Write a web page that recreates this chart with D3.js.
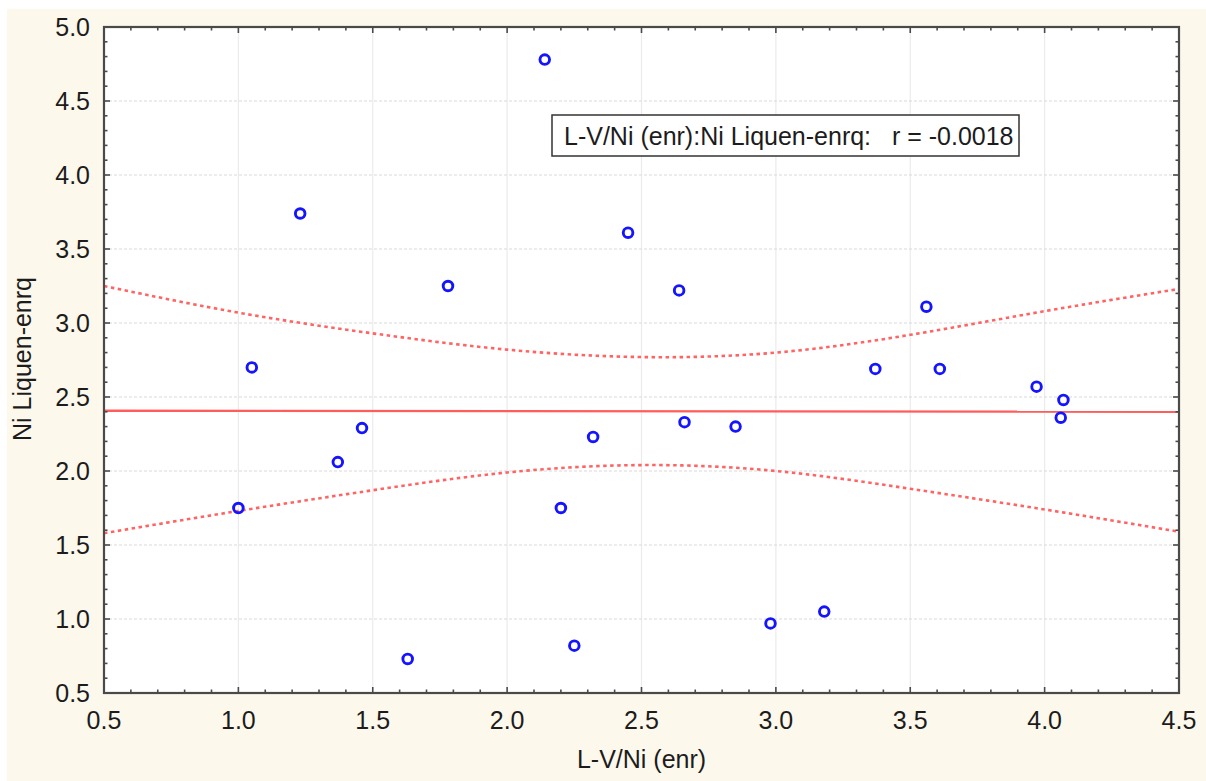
<!DOCTYPE html>
<html>
<head>
<meta charset="utf-8">
<script src="https://cdn.jsdelivr.net/npm/d3@7"></script>
<style>
  html, body { margin: 0; padding: 0; background: #ffffff; }
  svg { display: block; }
  text { font-family: "Liberation Sans", Arial, sans-serif; fill: #1c1c1c; }
</style>
</head>
<body>
<svg id="chart" width="1206" height="781"></svg>
<script>
// Observations: L-V/Ni (enr) against Ni Liquen-enrq
const xValues = [1.00, 1.05, 1.23, 1.37, 1.46, 1.63, 1.78, 2.14, 2.20, 2.25, 2.32, 2.45,
                 2.64, 2.66, 2.85, 2.98, 3.18, 3.37, 3.56, 3.61, 3.97, 4.06, 4.07];
const yValues = [1.75, 2.70, 3.74, 2.06, 2.29, 0.73, 3.25, 4.78, 1.75, 0.82, 2.23, 3.61,
                 3.22, 2.33, 2.30, 0.97, 1.05, 2.69, 3.11, 2.69, 2.57, 2.36, 2.48];

// Fitted line and 95% confidence band, sampled along x
const fitX = [0.5, 4.5];
const fitY = [2.407, 2.400];
const bandX = [0.5, 1.0, 1.5, 2.0, 2.5, 3.0, 3.5, 4.0, 4.5];
const bandUpper = [3.25, 3.07, 2.93, 2.82, 2.77, 2.80, 2.92, 3.08, 3.23];
const bandLower = [1.58, 1.73, 1.87, 1.99, 2.04, 2.00, 1.88, 1.74, 1.59];

// Axis ticks
const xTicks = [0.5, 1.0, 1.5, 2.0, 2.5, 3.0, 3.5, 4.0, 4.5];
const yTicks = [0.5, 1.0, 1.5, 2.0, 2.5, 3.0, 3.5, 4.0, 4.5, 5.0];

const xTitle = "L-V/Ni (enr)";
const yTitle = "Ni Liquen-enrq";
const legendText = "L-V/Ni (enr):Ni Liquen-enrq:   r = -0.0018";

const svg = d3.select("#chart");
const W = 1206, H = 781;
const plot = { left: 104, right: 1179, top: 27, bottom: 693 };
const fontSize = 25;

// page background
svg.append("rect").attr("x", 0).attr("y", 0).attr("width", W).attr("height", H).attr("fill", "#ffffff");
svg.append("rect").attr("x", 7).attr("y", 9).attr("width", W - 7).attr("height", H - 9).attr("fill", "#fcf8ec");

const x = d3.scaleLinear().domain([0.5, 4.5]).range([plot.left, plot.right]);
const y = d3.scaleLinear().domain([0.5, 5.0]).range([plot.bottom, plot.top]);

// plot area
svg.append("rect")
  .attr("x", plot.left).attr("y", plot.top)
  .attr("width", plot.right - plot.left).attr("height", plot.bottom - plot.top)
  .attr("fill", "#ffffff");

// grid
const grid = svg.append("g");
grid.selectAll("line.vg").data(xTicks.slice(1, -1)).join("line")
  .attr("x1", d => x(d)).attr("x2", d => x(d))
  .attr("y1", plot.top).attr("y2", plot.bottom)
  .attr("stroke", "#ebebeb").attr("stroke-width", 1.2);
grid.selectAll("line.hg").data(yTicks.slice(1, -1)).join("line")
  .attr("x1", plot.left).attr("x2", plot.right)
  .attr("y1", d => y(d)).attr("y2", d => y(d))
  .attr("stroke", "#dadada").attr("stroke-width", 1.2).attr("stroke-dasharray", "3,2");

// confidence band
const bandLine = d3.line().curve(d3.curveNatural).x(d => x(d[0])).y(d => y(d[1]));
[bandUpper, bandLower].forEach(arr => {
  svg.append("path")
    .attr("d", bandLine(bandX.map((v, i) => [v, arr[i]])))
    .attr("fill", "none").attr("stroke", "#ff6464")
    .attr("stroke-width", 2.6).attr("stroke-dasharray", "3.5,3.5");
});

// fitted line
svg.append("path")
  .attr("d", d3.line().x(d => x(d[0])).y(d => y(d[1]))(fitX.map((v, i) => [v, fitY[i]])))
  .attr("fill", "none").attr("stroke", "#ff5c5c").attr("stroke-width", 2.4);

// points
svg.append("g").selectAll("circle").data(xValues.map((v, i) => [v, yValues[i]])).join("circle")
  .attr("cx", d => x(d[0])).attr("cy", d => y(d[1])).attr("r", 4.8)
  .attr("fill", "none").attr("stroke", "#1414ff").attr("stroke-width", 2.9);

// minor / major ticks on all four sides (inward)
const axisCol = "#4a4a4a";
const ticksG = svg.append("g").attr("stroke", axisCol).attr("stroke-width", 1.6);
const xMinor = d3.range(6, 45).map(d => d / 10);
const yMinor = d3.range(6, 50).map(d => d / 10);
const isMajor = v => Math.abs(v * 2 - Math.round(v * 2)) < 1e-6;
xMinor.forEach(v => {
  const len = isMajor(v) ? 6 : 3.5;
  ticksG.append("line").attr("x1", x(v)).attr("x2", x(v)).attr("y1", plot.bottom).attr("y2", plot.bottom - len);
  ticksG.append("line").attr("x1", x(v)).attr("x2", x(v)).attr("y1", plot.top).attr("y2", plot.top + len);
});
yMinor.forEach(v => {
  const len = isMajor(v) ? 6 : 3.5;
  ticksG.append("line").attr("y1", y(v)).attr("y2", y(v)).attr("x1", plot.left).attr("x2", plot.left + len);
  ticksG.append("line").attr("y1", y(v)).attr("y2", y(v)).attr("x1", plot.right).attr("x2", plot.right - len);
});

// frame
svg.append("rect")
  .attr("x", plot.left).attr("y", plot.top)
  .attr("width", plot.right - plot.left).attr("height", plot.bottom - plot.top)
  .attr("fill", "none").attr("stroke", axisCol).attr("stroke-width", 2.2);

// tick labels
svg.append("g").selectAll("text").data(xTicks).join("text")
  .attr("x", d => x(d)).attr("y", 729)
  .attr("text-anchor", "middle").attr("font-size", fontSize)
  .text(d => d.toFixed(1));
svg.append("g").selectAll("text").data(yTicks).join("text")
  .attr("x", 90).attr("y", d => y(d) + 9)
  .attr("text-anchor", "end").attr("font-size", fontSize)
  .text(d => d.toFixed(1));

// axis titles
svg.append("text")
  .attr("x", (plot.left + plot.right) / 2).attr("y", 768)
  .attr("text-anchor", "middle").attr("font-size", fontSize)
  .text(xTitle);
svg.append("text")
  .attr("transform", "translate(31,359) rotate(-90)")
  .attr("text-anchor", "middle").attr("font-size", fontSize)
  .text(yTitle);

// correlation box
svg.append("rect")
  .attr("x", 552).attr("y", 115).attr("width", 467).attr("height", 41)
  .attr("fill", "#ffffff").attr("stroke", "#333333").attr("stroke-width", 1.5);
svg.append("text")
  .attr("x", 564).attr("y", 145).attr("font-size", fontSize)
  .attr("xml:space", "preserve").style("white-space", "pre")
  .text(legendText);
</script>
</body>
</html>
